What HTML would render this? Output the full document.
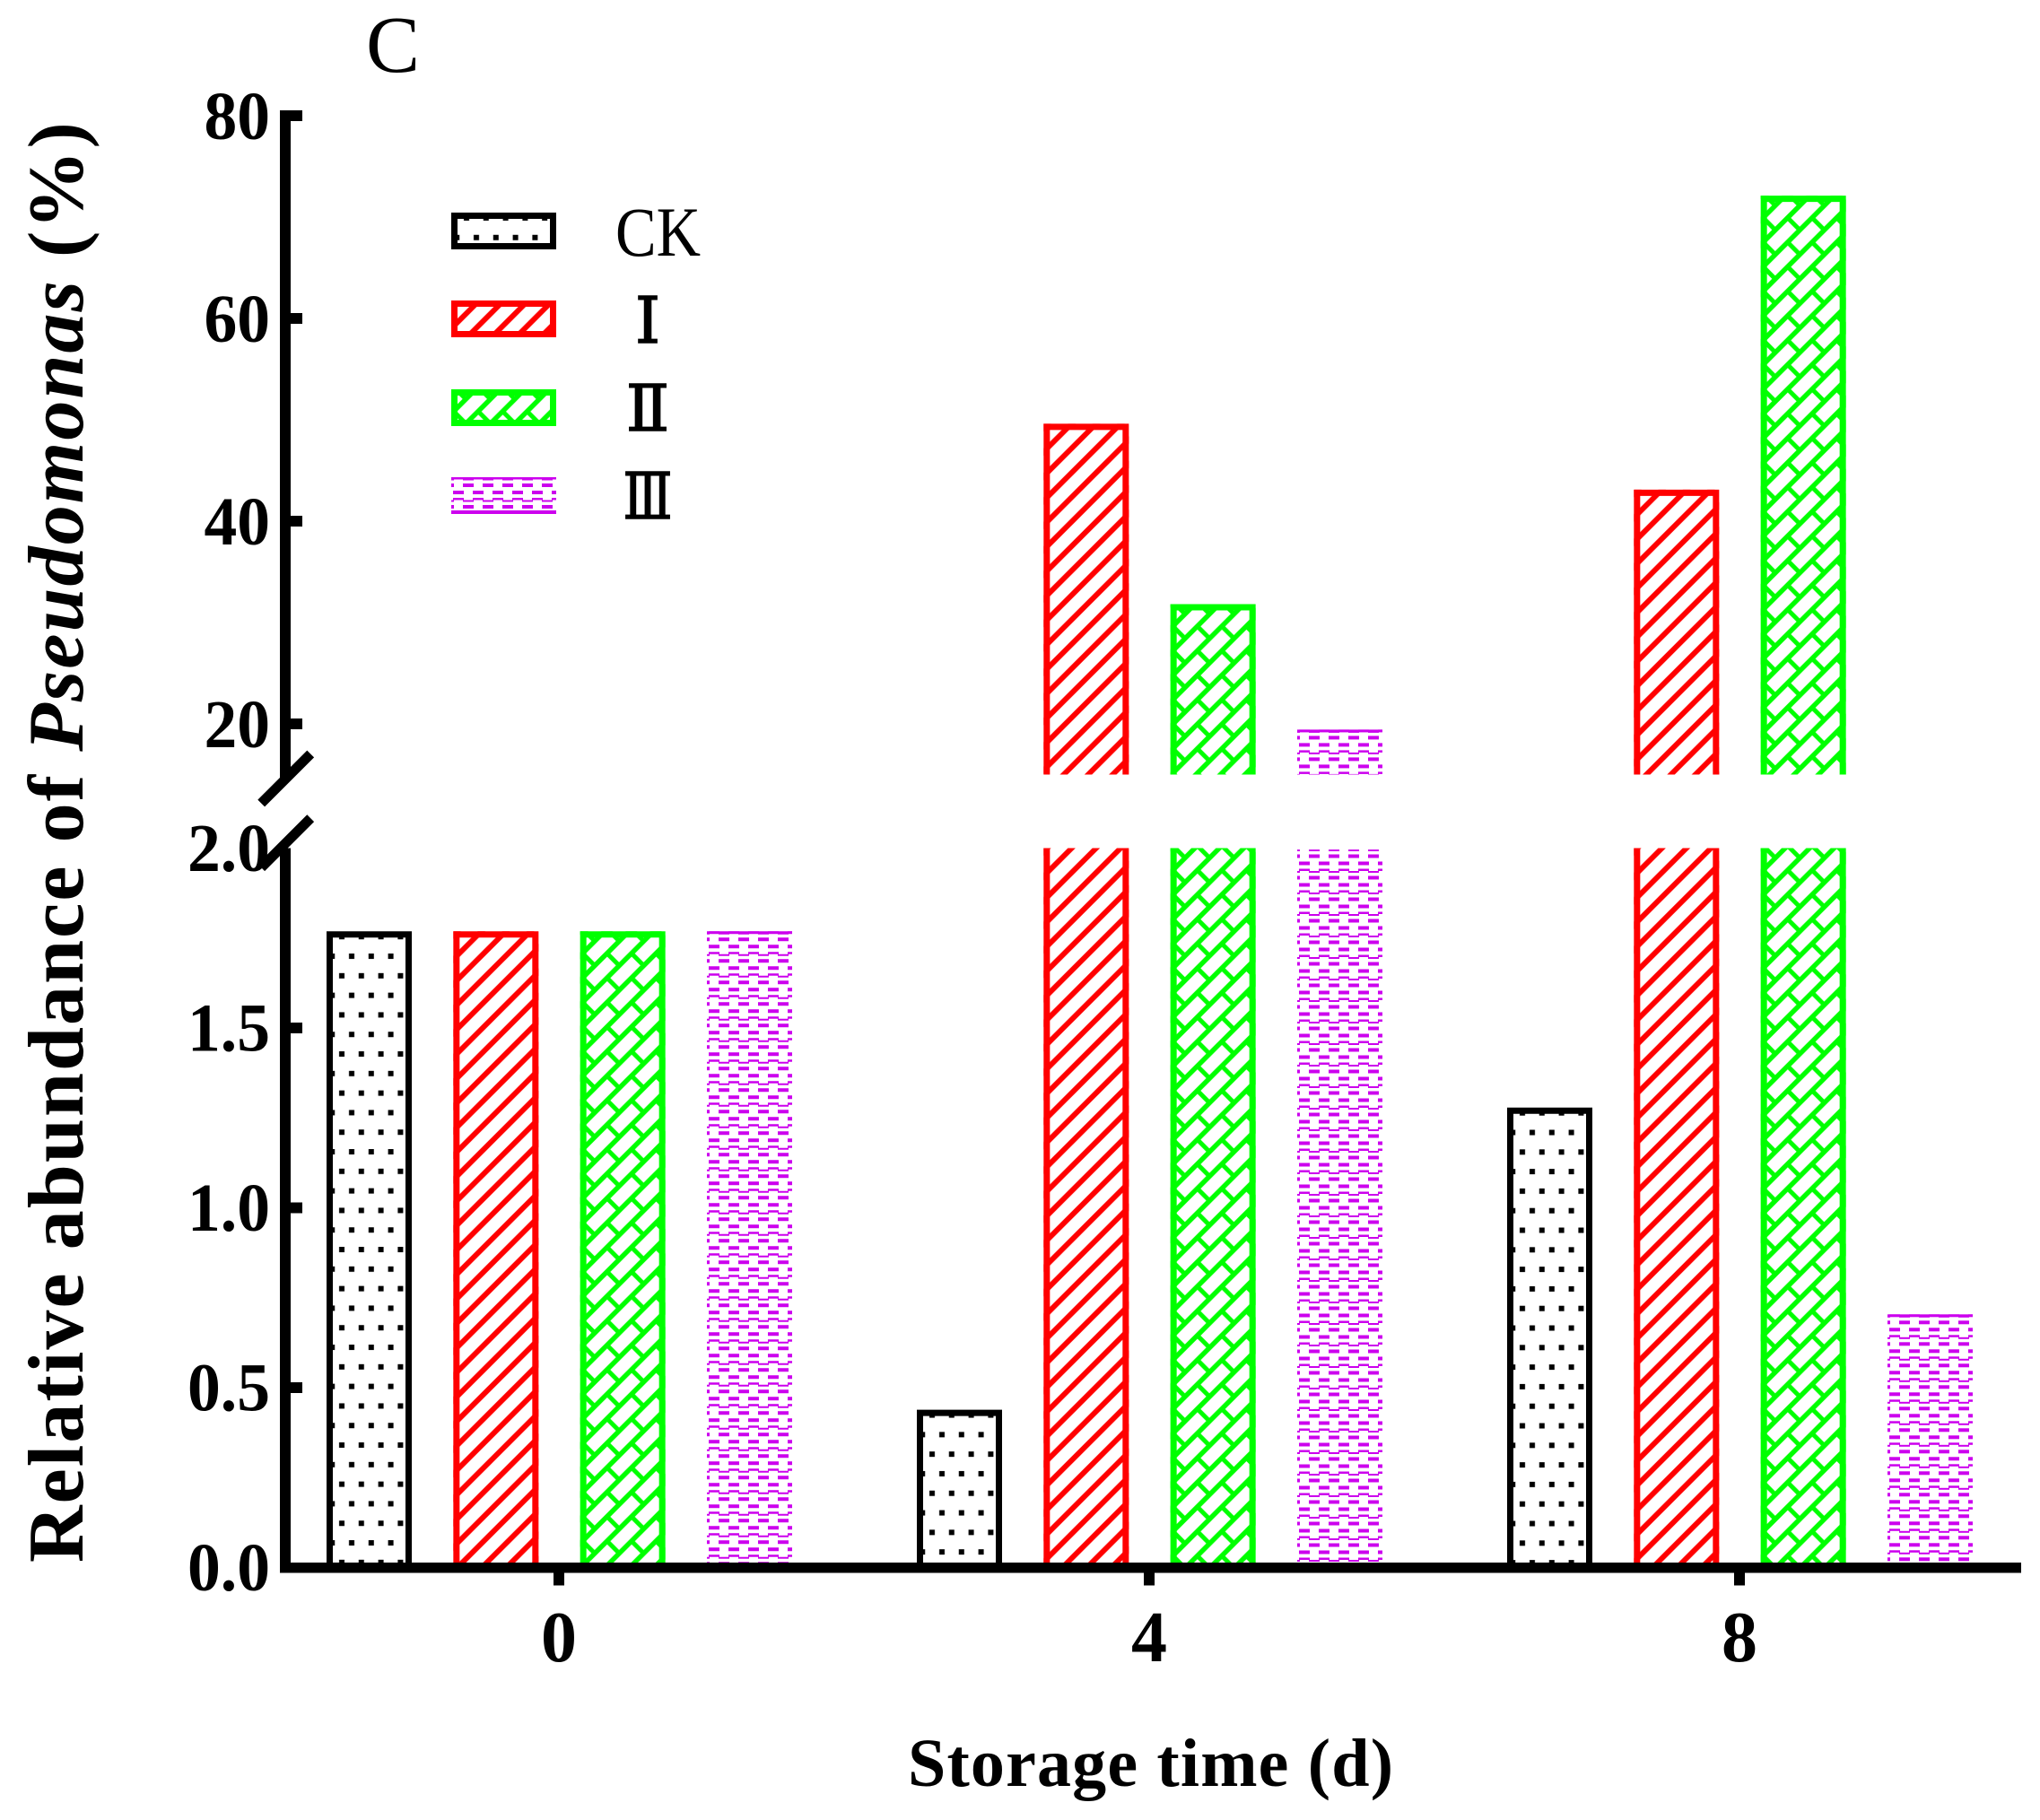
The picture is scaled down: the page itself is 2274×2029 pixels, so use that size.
<!DOCTYPE html>
<html lang="en">
<head>
<meta charset="utf-8">
<title>Relative abundance of Pseudomonas</title>
<style>
html,body{margin:0;padding:0;background:#fff;}
svg{display:block;}
text{font-family:"Liberation Serif","Noto Serif CJK SC",serif;fill:#000;}
.tick{font-weight:700;font-size:76px;}
.num{font-family:"DejaVu Serif","DejaVu Sans",serif;stroke:#000;stroke-width:1.5px;}
</style>
</head>
<body>
<svg id="chart" xmlns="http://www.w3.org/2000/svg" width="2274" height="2029" viewBox="0 0 2274 2029">
  <defs>
    <pattern id="p-dots" patternUnits="userSpaceOnUse" x="0" y="0" width="21.8" height="43.6">
      <rect x="14" y="3" width="6" height="6" fill="#000"/>
      <rect x="3.2" y="24.8" width="6" height="6" fill="#000"/>
    </pattern>
    <pattern id="p-hatch" patternUnits="userSpaceOnUse" x="0" y="0" width="27.3" height="27.3">
      <path d="M9,-5 L-5,9 M36.3,-5 L-5,36.3 M63.6,-5 L-5,63.6" stroke="#ff0000" stroke-width="6" fill="none"/>
    </pattern>
    <pattern id="p-brick" patternUnits="userSpaceOnUse" x="0" y="0" width="27.3" height="27.3">
      <path d="M-5,5 L5,-5 M-5,32.3 L32.3,-5 M-5,59.6 L32.3,22.3" stroke="#00ff00" stroke-width="5.5" fill="none"/>
      <path d="M2.7,-2.7 L16.3,10.9 M30,-2.7 L43.7,10.9 M-24.6,-2.7 L-11,10.9 M2.7,24.6 L16.3,38.2" stroke="#00ff00" stroke-width="5" fill="none"/>
    </pattern>
    <pattern id="p-dash" patternUnits="userSpaceOnUse" x="0" y="0" width="22" height="24">
      <rect x="13" y="7" width="9" height="4" fill="#cc00ee"/>
      <rect x="0" y="7" width="3" height="4" fill="#cc00ee"/>
      <rect x="2" y="15" width="12" height="4" fill="#cc00ee"/>
      <rect x="2" y="23" width="12" height="1" fill="#cc00ee"/>
      <rect x="2" y="0" width="12" height="1.5" fill="#cc00ee"/>
      <rect x="13" y="1.5" width="9" height="2" fill="#cc00ee"/>
      <rect x="0" y="1.5" width="3" height="2" fill="#cc00ee"/>
    </pattern>
  </defs>

  <text x="408" y="80" font-size="90">C</text>

  <text transform="translate(92,1742) rotate(-90)" font-size="88" font-weight="700" letter-spacing="2.1">Relative abundance of <tspan font-style="italic">Pseudomonas</tspan> (%)</text>

  <text x="1012" y="1991" font-size="76" font-weight="700" textLength="541" lengthAdjust="spacing">Storage time (d)</text>

  <g id="bars"></g>
  <g id="axes"></g>

  <g>
    <g>
      <g transform="translate(503,237)">
        <rect width="117" height="41" fill="url(#p-dots)"/>
        <rect x="3.5" y="3.5" width="110" height="34" fill="none" stroke="#000" stroke-width="7"/>
      </g>
      <text x="686" y="285" font-size="78" textLength="95" lengthAdjust="spacingAndGlyphs">CK</text>
    </g>
    <g>
      <g transform="translate(503,335)">
        <rect width="117" height="41" fill="url(#p-hatch)"/>
        <rect x="3.5" y="3.5" width="110" height="34" fill="none" stroke="#ff0000" stroke-width="7"/>
      </g>
      <text class="num" x="722" y="382" font-size="71" text-anchor="middle">Ⅰ</text>
    </g>
    <g>
      <g transform="translate(503,434)">
        <rect width="117" height="41" fill="url(#p-brick)"/>
        <rect x="3.5" y="3.5" width="110" height="34" fill="none" stroke="#00ff00" stroke-width="7"/>
      </g>
      <text class="num" x="722" y="480" font-size="71" text-anchor="middle">Ⅱ</text>
    </g>
    <g>
      <g transform="translate(503,532)">
        <rect width="117" height="41" fill="url(#p-dash)"/>
        <rect x="0" y="0" width="117" height="2.5" fill="#cc00ee"/>
        <rect x="0" y="37" width="117" height="4" fill="#cc00ee"/>
      </g>
      <text class="num" x="722" y="578" font-size="71" text-anchor="middle" textLength="55" lengthAdjust="spacingAndGlyphs">Ⅲ</text>
    </g>
  </g>
</svg>

<script>
var categories = ['0', '4', '8'];
var seriesNames = ['ck', 'i', 'ii', 'iii'];
var ckValues = [1.76, 0.43, 1.27];
var iValues = [1.76, 49.3, 42.8];
var iiValues = [1.76, 31.5, 71.8];
var iiiValues = [1.765, 19.3, 0.70];
var lowerTickValues = [0.5, 1.0, 1.5];
var lowerTickLabels = [0.0, 0.5, 1.0, 1.5, 2.0];
var upperTickValues = [20, 40, 60, 80];

var NS = 'http://www.w3.org/2000/svg';
var allSeries = [ckValues, iValues, iiValues, iiiValues];
var seriesColors = ['#000000', '#ff0000', '#00ff00', '#cc00ee'];
var seriesFills = ['url(#p-dots)', 'url(#p-hatch)', 'url(#p-brick)', 'url(#p-dash)'];

var BREAK_LOW = 2;
var BREAK_HIGH = 15;
var BAR_W = 95;
var STROKE = 7;

function yLower(v) { return 1747.5 - v * 401; }
function yUpper(v) { return 807 - (v - 20) * 11.3; }
function xBar(g, s) { return 364 + g * 658 + s * 141.33; }
function xTick(g) { return 623 + g * 658; }

function make(tag, parent) {
  var el = document.createElementNS(NS, tag);
  parent.appendChild(el);
  return el;
}
function geom(el, props) {
  for (var k in props) { el.setAttribute(k, props[k]); }
  return el;
}

var barsLayer = document.getElementById('bars');
var axesLayer = document.getElementById('axes');

function drawSegment(parent, s, x, top, bottom, closedTop) {
  var half = s === 3 ? 1.5 : STROKE / 2;
  var outerTop = closedTop ? top - half : top;
  var g = make('g', parent);
  g.setAttribute('transform', 'translate(' + x + ',' + outerTop + ')');
  var h = bottom - outerTop;
  var fillStart = (s === 3 && !closedTop) ? 1.6 : 0;
  var fill = make('rect', g);
  
  
  geom(fill, { x: 0, y: fillStart, width: BAR_W, height: h - fillStart, fill: seriesFills[s] });
  if (s === 3) {
    if (closedTop) {
      var cap = make('rect', g);
      
      
      geom(cap, { x: 0, y: 0, width: BAR_W, height: 3, fill: seriesColors[s] });
    }
    return;
  }
  var outline = make('path', g);
  
  
  var l = STROKE / 2, r = BAR_W - STROKE / 2;
  var d = closedTop
    ? 'M' + l + ',' + h + ' V' + l + ' H' + r + ' V' + h
    : 'M' + l + ',' + h + ' V0 M' + r + ',0 V' + h;
  geom(outline, { d: d, fill: 'none', stroke: seriesColors[s], 'stroke-width': STROKE });
}

allSeries.forEach(function (values, s) {
  values.forEach(function (v, g) {
    var x = xBar(g, s);
    var bar = make('g', barsLayer);
    
    
    if (v > BREAK_LOW) {
      drawSegment(bar, s, x, yLower(BREAK_LOW), yLower(0), false);
    } else {
      drawSegment(bar, s, x, yLower(v), yLower(0), true);
    }
    if (v > BREAK_HIGH) {
      drawSegment(bar, s, x, yUpper(v), yUpper(BREAK_HIGH), true);
    }
  });
});

/* y axis upper and lower segments */
var axisUpper = make('rect', axesLayer);


geom(axisUpper, { x: 312, y: yUpper(80) - 6, width: 12, height: yUpper(BREAK_HIGH) + 5 - (yUpper(80) - 6), fill: '#000' });

var axisLower = make('rect', axesLayer);


geom(axisLower, { x: 312, y: yLower(BREAK_LOW), width: 12, height: yLower(0) - yLower(BREAK_LOW) + 6, fill: '#000' });

/* x axis line */
var axisX = make('rect', axesLayer);


geom(axisX, { x: 312, y: yLower(0) - 5.5, width: 1941, height: 11.5, fill: '#000' });

/* axis break marks */
var breakTop = make('line', axesLayer);


geom(breakTop, { x1: 291.2, y1: 895.5, x2: 346.2, y2: 840.5, stroke: '#000', 'stroke-width': 11 });

var breakBottom = make('line', axesLayer);


geom(breakBottom, { x1: 291.2, y1: 967.2, x2: 346.2, y2: 912.2, stroke: '#000', 'stroke-width': 11 });

/* y ticks: upper axis */
upperTickValues.forEach(function (v) {
  var t = make('rect', axesLayer);
  
  
  geom(t, { x: 324, y: yUpper(v) - 6, width: 13, height: 12, fill: '#000' });
  var lab = make('text', axesLayer);
  
  
  geom(lab, { x: 301, y: yUpper(v) + 26, 'text-anchor': 'end', class: 'tick', textLength: 73.5, lengthAdjust: 'spacingAndGlyphs' });
  lab.textContent = String(v);
});

/* y ticks: lower axis */
lowerTickValues.forEach(function (v) {
  var t = make('rect', axesLayer);
  
  
  geom(t, { x: 324, y: yLower(v) - 6, width: 13, height: 12, fill: '#000' });
});
lowerTickLabels.forEach(function (v) {
  var lab = make('text', axesLayer);
  
  
  geom(lab, { x: 301, y: yLower(v) + 25.5, 'text-anchor': 'end', class: 'tick', textLength: 92, lengthAdjust: 'spacingAndGlyphs' });
  lab.textContent = v.toFixed(1);
});

/* x ticks */
categories.forEach(function (c, g) {
  var t = make('rect', axesLayer);
  
  
  geom(t, { x: xTick(g) - 6, y: yLower(0) + 5.5, width: 12, height: 14.5, fill: '#000' });
  var lab = make('text', axesLayer);
  
  
  geom(lab, { x: xTick(g), y: 1852, 'text-anchor': 'middle', 'font-size': 80, 'font-weight': 700 });
  lab.textContent = c;
});
</script>
</body>
</html>
